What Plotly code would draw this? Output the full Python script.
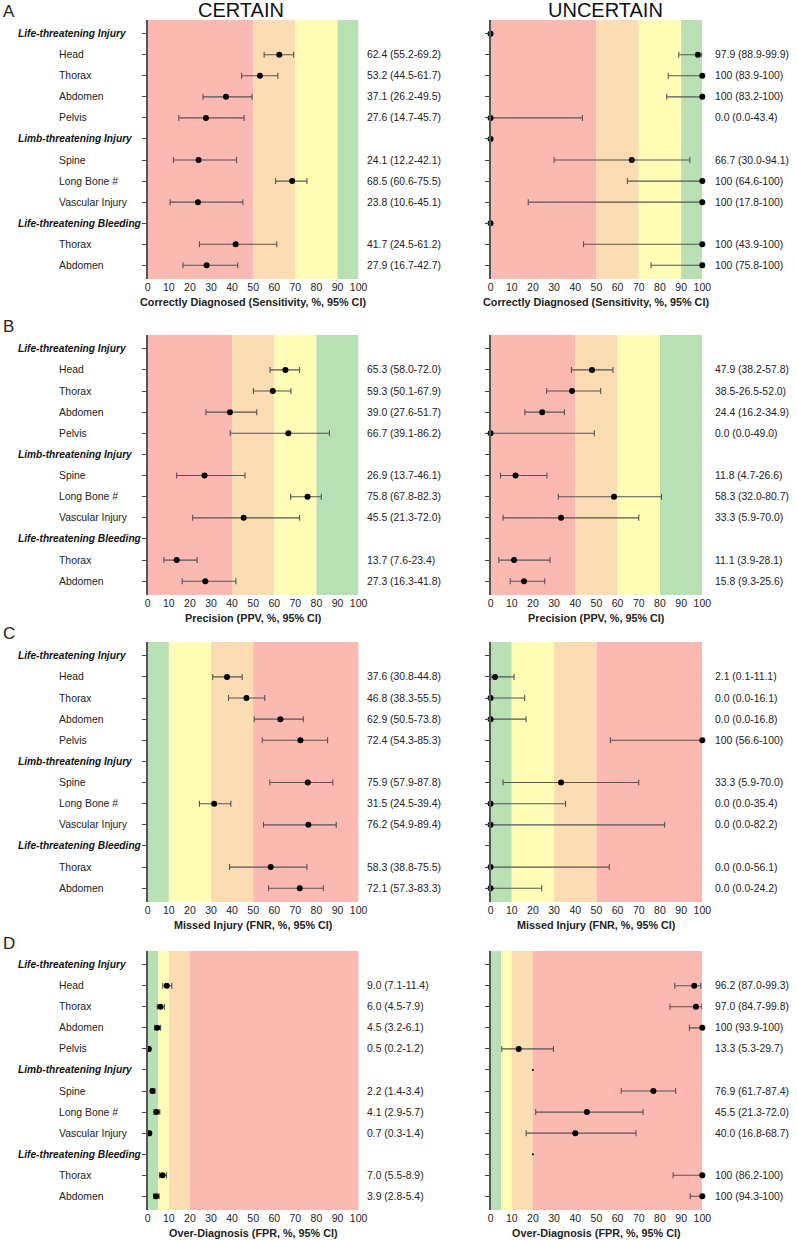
import plotly.graph_objects as go

W, H = 797, 1240

# ---------------- data ----------------
row_labels = ["Life-threatening Injury", "Head", "Thorax", "Abdomen", "Pelvis",
              "Limb-threatening Injury", "Spine", "Long Bone #", "Vascular Injury",
              "Life-threatening Bleeding", "Thorax", "Abdomen"]
header_rows = [0, 5, 9]
item_rows = [1, 2, 3, 4, 6, 7, 8, 10, 11]

# A: Sensitivity
sens_cert = [62.4, 53.2, 37.1, 27.6, 24.1, 68.5, 23.8, 41.7, 27.9]
sens_cert_lo = [55.2, 44.5, 26.2, 14.7, 12.2, 60.6, 10.6, 24.5, 16.7]
sens_cert_hi = [69.2, 61.7, 49.5, 45.7, 42.1, 75.5, 45.1, 61.2, 42.7]
sens_unc = [97.9, 100, 100, 0.0, 66.7, 100, 100, 100, 100]
sens_unc_lo = [88.9, 83.9, 83.2, 0.0, 30.0, 64.6, 17.8, 43.9, 75.8]
sens_unc_hi = [99.9, 100, 100, 43.4, 94.1, 100, 100, 100, 100]
sens_unc_header_vals = [0, 0, 0]

# B: Precision
ppv_cert = [65.3, 59.3, 39.0, 66.7, 26.9, 75.8, 45.5, 13.7, 27.3]
ppv_cert_lo = [58.0, 50.1, 27.6, 39.1, 13.7, 67.8, 21.3, 7.6, 16.3]
ppv_cert_hi = [72.0, 67.9, 51.7, 86.2, 46.1, 82.3, 72.0, 23.4, 41.8]
ppv_unc = [47.9, 38.5, 24.4, 0.0, 11.8, 58.3, 33.3, 11.1, 15.8]
ppv_unc_lo = [38.2, 26.5, 16.2, 0.0, 4.7, 32.0, 5.9, 3.9, 9.3]
ppv_unc_hi = [57.8, 52.0, 34.9, 49.0, 26.6, 80.7, 70.0, 28.1, 25.6]

# C: Missed injury (FNR)
fnr_cert = [37.6, 46.8, 62.9, 72.4, 75.9, 31.5, 76.2, 58.3, 72.1]
fnr_cert_lo = [30.8, 38.3, 50.5, 54.3, 57.9, 24.5, 54.9, 38.8, 57.3]
fnr_cert_hi = [44.8, 55.5, 73.8, 85.3, 87.8, 39.4, 89.4, 75.5, 83.3]
fnr_unc = [2.1, 0.0, 0.0, 100, 33.3, 0.0, 0.0, 0.0, 0.0]
fnr_unc_lo = [0.1, 0.0, 0.0, 56.6, 5.9, 0.0, 0.0, 0.0, 0.0]
fnr_unc_hi = [11.1, 16.1, 16.8, 100, 70.0, 35.4, 82.2, 56.1, 24.2]

# D: Over-diagnosis (FPR)
fpr_cert = [9.0, 6.0, 4.5, 0.5, 2.2, 4.1, 0.7, 7.0, 3.9]
fpr_cert_lo = [7.1, 4.5, 3.2, 0.2, 1.4, 2.9, 0.3, 5.5, 2.8]
fpr_cert_hi = [11.4, 7.9, 6.1, 1.2, 3.4, 5.7, 1.4, 8.9, 5.4]
fpr_unc = [96.2, 97.0, 100, 13.3, 76.9, 45.5, 40.0, 100, 100]
fpr_unc_lo = [87.0, 84.7, 93.9, 5.3, 61.7, 21.3, 16.8, 86.2, 94.3]
fpr_unc_hi = [99.3, 99.8, 100, 29.7, 87.4, 72.0, 68.7, 100, 100]
fpr_unc_header_rows = [5, 9]
fpr_unc_header_vals = [20, 20]

x_ticks = [0, 10, 20, 30, 40, 50, 60, 70, 80, 90, 100]

# colour bands (start, end, colour) per panel
RED, ORANGE, YELLOW, GREEN = "#FBB9B1", "#FCDCB3", "#FFFCB6", "#B9DFB4"
bands_sens = [(0, 50, RED), (50, 70, ORANGE), (70, 90, YELLOW), (90, 100, GREEN)]
bands_ppv = [(0, 40, RED), (40, 60, ORANGE), (60, 80, YELLOW), (80, 100, GREEN)]
bands_fnr = [(0, 10, GREEN), (10, 30, YELLOW), (30, 50, ORANGE), (50, 100, RED)]
bands_fpr = [(0, 5, GREEN), (5, 10, YELLOW), (10, 20, ORANGE), (20, 100, RED)]

panels = [
    dict(letter="A", title="Correctly Diagnosed (Sensitivity, %, 95% CI)", bands=bands_sens,
         top=20, bottom=279,
         cert=(sens_cert, sens_cert_lo, sens_cert_hi), unc=(sens_unc, sens_unc_lo, sens_unc_hi)),
    dict(letter="B", title="Precision (PPV, %, 95% CI)", bands=bands_ppv,
         top=335, bottom=595,
         cert=(ppv_cert, ppv_cert_lo, ppv_cert_hi), unc=(ppv_unc, ppv_unc_lo, ppv_unc_hi)),
    dict(letter="C", title="Missed Injury (FNR, %, 95% CI)", bands=bands_fnr,
         top=642, bottom=902,
         cert=(fnr_cert, fnr_cert_lo, fnr_cert_hi), unc=(fnr_unc, fnr_unc_lo, fnr_unc_hi)),
    dict(letter="D", title="Over-Diagnosis (FPR, %, 95% CI)", bands=bands_fpr,
         top=951, bottom=1210,
         cert=(fpr_cert, fpr_cert_lo, fpr_cert_hi), unc=(fpr_unc, fpr_unc_lo, fpr_unc_hi)),
]

# text overrides (as printed in the original)
text_override = {("B", "unc", 1): "38.5-26.5-52.0)"}


def fmt(v):
    return "100" if v == 100 else f"{v:.1f}"


def px(xp):
    return xp / W


def py(yp):
    return 1 - yp / H


FONT = "Liberation Sans, Arial, sans-serif"
fig = go.Figure()
annotations = []
shapes = []

col_px = {"cert": (147, 361), "unc": (495, 710)}
text_px = {"cert": 368, "unc": 721}

ax_i = 0
for p in panels:
    ydom = [py(p["bottom"]), py(p["top"])]
    for side in ["cert", "unc"]:
        ax_i += 1
        sfx = "" if ax_i == 1 else str(ax_i)
        xa, ya = "x" + sfx, "y" + sfx
        x0, x1 = col_px[side]
        fig.layout["xaxis" + sfx] = dict(
            domain=[px(x0), px(x1)], range=[0, 100], anchor=ya,
            tickvals=x_ticks, ticks="", showline=False, showgrid=False, zeroline=False,
            tickfont=dict(family=FONT, size=10.5, color="#222"), fixedrange=True)
        fig.layout["yaxis" + sfx] = dict(
            domain=ydom, range=[11.65, -0.65], anchor=xa,
            tickvals=list(range(12)), ticks="outside", ticklen=4, tickwidth=1, tickcolor="#444",
            showticklabels=False, showline=True, linecolor="#555", linewidth=2,
            showgrid=False, zeroline=False, fixedrange=True)
        for b0, b1, c in p["bands"]:
            shapes.append(dict(type="rect", xref=xa, yref=ya + " domain", x0=b0, x1=b1, y0=0, y1=1,
                               fillcolor=c, line=dict(width=0), layer="below"))
        vals, lo, hi = p[side]
        fig.add_trace(go.Scatter(
            x=vals, y=item_rows, xaxis=xa, yaxis=ya, mode="markers",
            marker=dict(color="black", size=6),
            error_x=dict(type="data", symmetric=False,
                         array=[h - v for v, h in zip(vals, hi)],
                         arrayminus=[v - l for v, l in zip(vals, lo)],
                         color="#555", thickness=1.1, width=3),
            cliponaxis=False, showlegend=False, hoverinfo="skip"))
        if p["letter"] == "A" and side == "unc":
            fig.add_trace(go.Scatter(x=sens_unc_header_vals, y=header_rows, xaxis=xa, yaxis=ya,
                                     mode="markers", marker=dict(color="black", size=6),
                                     cliponaxis=False, showlegend=False, hoverinfo="skip"))
        if p["letter"] == "D" and side == "unc":
            fig.add_trace(go.Scatter(x=fpr_unc_header_vals, y=fpr_unc_header_rows, xaxis=xa, yaxis=ya,
                                     mode="markers", marker=dict(color="black", size=2),
                                     cliponaxis=False, showlegend=False, hoverinfo="skip"))
        # value text
        for k, (v, l, h) in enumerate(zip(vals, lo, hi)):
            txt = text_override.get((p["letter"], side, k), f"{fmt(v)} ({fmt(l)}-{fmt(h)})")
            annotations.append(dict(x=px(text_px[side]), xref="paper", y=item_rows[k], yref=ya,
                                    text=txt, showarrow=False, xanchor="left", yanchor="middle",
                                    font=dict(family=FONT, size=10.4, color="#222")))
        # axis title
        annotations.append(dict(x=(px(x0) + px(x1)) / 2, xref="paper", y=py(p["bottom"] + 23),
                                yref="paper", text="<b>" + p["title"] + "</b>", showarrow=False,
                                xanchor="center", yanchor="middle",
                                font=dict(family=FONT, size=10.8, color="#222")))
        # row labels on the left panel
        if side == "cert":
            for r, lab in enumerate(row_labels):
                if r in header_rows:
                    annotations.append(dict(x=px(13), xref="paper", y=r, yref=ya,
                                            text="<b><i>" + lab + "</i></b>", showarrow=False,
                                            xanchor="left", yanchor="middle",
                                            font=dict(family=FONT, size=10.2, color="#111")))
                else:
                    annotations.append(dict(x=px(55), xref="paper", y=r, yref=ya, text=lab,
                                            showarrow=False, xanchor="left", yanchor="middle",
                                            font=dict(family=FONT, size=10.4, color="#222")))
    # panel letter
    annotations.append(dict(x=px(-2), xref="paper", y=py(p["top"] - 8), yref="paper",
                            text=p["letter"], showarrow=False, xanchor="left", yanchor="middle",
                            font=dict(family=FONT, size=17, color="#222")))

annotations.append(dict(x=px(242), xref="paper", y=py(10), yref="paper", text="CERTAIN",
                        showarrow=False, xanchor="center", yanchor="middle",
                        font=dict(family=FONT, size=20, color="#111")))
annotations.append(dict(x=px(612), xref="paper", y=py(10), yref="paper", text="UNCERTAIN",
                        showarrow=False, xanchor="center", yanchor="middle",
                        font=dict(family=FONT, size=20, color="#111")))

fig.update_layout(width=W, height=H, margin=dict(l=0, r=0, t=0, b=0),
                  paper_bgcolor="white", plot_bgcolor="white",
                  annotations=annotations, shapes=shapes, showlegend=False,
                  font=dict(family=FONT))
fig.write_html("out.html", config={"displayModeBar": False},
               post_script="document.body.style.margin='0';document.body.style.overflow='hidden';")
